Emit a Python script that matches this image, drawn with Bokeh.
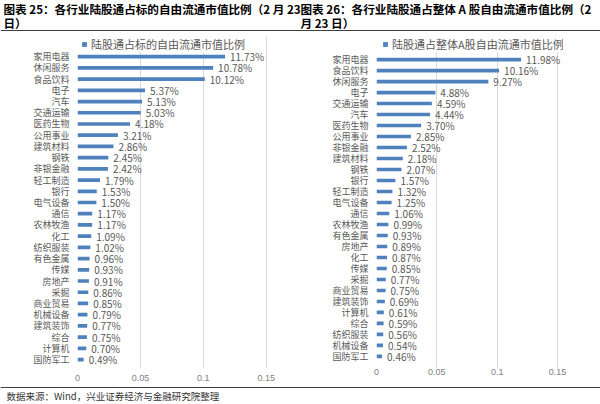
from bokeh.plotting import figure
from bokeh.layouts import column, row
from bokeh.models import (FactorRange, Range1d, FixedTicker, Legend, LegendItem,
                          Label, ColumnDataSource, NumeralTickFormatter)
from bokeh.core.properties import value
from bokeh.embed import file_html
from bokeh.resources import INLINE

# ---------------- data ----------------
left_categories = ["家用电器", "休闲服务", "食品饮料", "电子", "汽车", "交通运输", "医药生物",
                   "公用事业", "建筑材料", "钢铁", "非银金融", "轻工制造", "银行", "电气设备",
                   "通信", "农林牧渔", "化工", "纺织服装", "有色金属", "传媒", "房地产", "采掘",
                   "商业贸易", "机械设备", "建筑装饰", "综合", "计算机", "国防军工"]
left_values = [11.73, 10.78, 10.12, 5.37, 5.13, 5.03, 4.18, 3.21, 2.86, 2.45, 2.42, 1.79,
               1.53, 1.50, 1.17, 1.17, 1.09, 1.02, 0.96, 0.93, 0.91, 0.86, 0.85, 0.79,
               0.77, 0.75, 0.70, 0.49]

right_categories = ["家用电器", "食品饮料", "休闲服务", "电子", "交通运输", "汽车", "医药生物",
                    "公用事业", "非银金融", "建筑材料", "钢铁", "银行", "轻工制造", "电气设备",
                    "通信", "农林牧渔", "有色金属", "房地产", "化工", "传媒", "采掘", "商业贸易",
                    "建筑装饰", "计算机", "综合", "纺织服装", "机械设备", "国防军工"]
right_values = [11.98, 10.16, 9.27, 4.88, 4.59, 4.44, 3.70, 2.85, 2.52, 2.18, 2.07, 1.57,
                1.32, 1.25, 1.06, 0.99, 0.93, 0.89, 0.87, 0.85, 0.77, 0.75, 0.69, 0.61,
                0.59, 0.56, 0.54, 0.46]

x_ticks = [0, 0.05, 0.1, 0.15]
x_tick_labels = ["0", "0.05", "0.1", "0.15"]

left_legend = "陆股通占标的自由流通市值比例"
right_legend = "陆股通占整体A股自由流通市值比例"
left_title_1 = "图表 25：各行业陆股通占标的自由流通市值比例（2 月 23"
left_title_2 = "日）"
right_title_1 = "图表 26：各行业陆股通占整体 A 股自由流通市值比例（2"
right_title_2 = "月 23 日）"
source_text = "数据来源：Wind，兴业证券经济与金融研究院整理"

FONT = "Noto Sans CJK SC"
NUM_FONT = "Liberation Sans"
BAR = "#4F81BD"
RULE = "#404040"
W_HALF = 300
H_HEAD = 32
H_BODY = 354
H_FOOT = 17
TOP = 4       # shared by both charts (their frames are aligned in the row)
BOTTOM = 18


def make_chart(cats, vals, legend_text, min_left, min_right, pad, legend_x, standoff):
    src = ColumnDataSource(dict(cat=cats, val=[v / 100 for v in vals],
                                lab=[f"{v:.2f}%" for v in vals]))
    # one blank slot above the first category holds the legend
    p = figure(width=W_HALF, height=H_BODY, title=None,
               y_range=FactorRange(factors=list(reversed(cats)) + [" "],
                                   range_padding=pad, range_padding_units="absolute"),
               x_range=Range1d(0, 0.155),
               output_backend="svg", toolbar_location=None,
               min_border_left=min_left, min_border_right=min_right,
               min_border_top=TOP, min_border_bottom=BOTTOM)
    r = p.hbar(y="cat", right="val", left=0, height=0.33, source=src,
               fill_color=BAR, line_color=None)
    p.text(x="val", y="cat", text="lab", source=src, x_offset=5,
           text_align="left", text_baseline="middle",
           text_font=value(FONT), text_font_size="10px", text_color="#595959")

    frame_h = H_BODY - TOP - BOTTOM
    legend = Legend(items=[LegendItem(label=legend_text, renderers=[r])],
                    orientation="horizontal", location=(legend_x, frame_h - 16),
                    glyph_width=6, glyph_height=6, label_height=10,
                    label_standoff=4, padding=0, margin=0,
                    label_text_font=FONT, label_text_font_size="11px",
                    label_text_color="#595959",
                    border_line_color=None, background_fill_color="white",
                    background_fill_alpha=1)
    p.add_layout(legend)

    p.xaxis.ticker = FixedTicker(ticks=x_ticks)
    p.xaxis.formatter = NumeralTickFormatter(format="0.[00]")
    p.xaxis.major_label_overrides = dict(zip(x_ticks, x_tick_labels))
    p.xaxis.axis_line_color = None
    p.xaxis.major_tick_line_color = None
    p.xaxis.minor_tick_line_color = None
    p.xaxis.major_tick_in = 0
    p.xaxis.major_tick_out = 0
    p.xaxis.major_label_standoff = standoff
    p.xaxis.major_label_text_font = NUM_FONT
    p.xaxis.major_label_text_font_size = "9px"
    p.xaxis.major_label_text_color = "#808080"

    p.yaxis.axis_line_color = None
    p.yaxis.major_tick_line_color = None
    p.yaxis.major_tick_in = 0
    p.yaxis.major_tick_out = 0
    p.yaxis.major_label_standoff = 8
    p.yaxis.major_label_text_font = FONT
    p.yaxis.major_label_text_font_size = "9px"
    p.yaxis.major_label_text_color = "#595959"

    p.xgrid.ticker = FixedTicker(ticks=x_ticks)
    p.xgrid.grid_line_color = "#D9D9D9"
    p.ygrid.visible = False
    p.outline_line_color = None
    p.background_fill_color = "white"
    p.border_fill_color = "white"
    return p


left = make_chart(left_categories, left_values, left_legend, 77, 28, 0.3, 4, 6)
right = make_chart(right_categories, right_values, right_legend, 76, 37, 0.6, 6, 0)

# header
header = figure(width=2 * W_HALF, height=H_HEAD, title=None,
                x_range=Range1d(0, 2 * W_HALF), y_range=Range1d(H_HEAD, 0),
                x_axis_type=None, y_axis_type=None, output_backend="svg",
                toolbar_location=None, min_border=0)
header.grid.visible = False
header.outline_line_color = None
header.hspan(y=[29.5], line_color=RULE, line_width=1)
for tx, ty, t in [(3, 8, left_title_1), (3, 22, left_title_2),
                  (300, 8, right_title_1), (300, 22, right_title_2)]:
    header.add_layout(Label(x=tx, y=ty, text=t, text_baseline="middle", text_align="left",
                            text_font=FONT, text_font_style="bold", text_font_size="11.6px",
                            text_color="#000000"))

# footer
footer = figure(width=2 * W_HALF, height=H_FOOT, title=None,
                x_range=Range1d(0, 2 * W_HALF), y_range=Range1d(H_FOOT, 0),
                x_axis_type=None, y_axis_type=None, output_backend="svg",
                toolbar_location=None, min_border=0)
footer.grid.visible = False
footer.outline_line_color = None
footer.hspan(y=[0.5], line_color=RULE, line_width=1)
footer.add_layout(Label(x=6, y=9, text=source_text, text_baseline="middle", text_align="left",
                        text_font=FONT, text_font_size="9.5px", text_color="#333333"))

layout = column(header, row(left, right), footer)
open("out.html", "w").write(file_html(layout, INLINE))
